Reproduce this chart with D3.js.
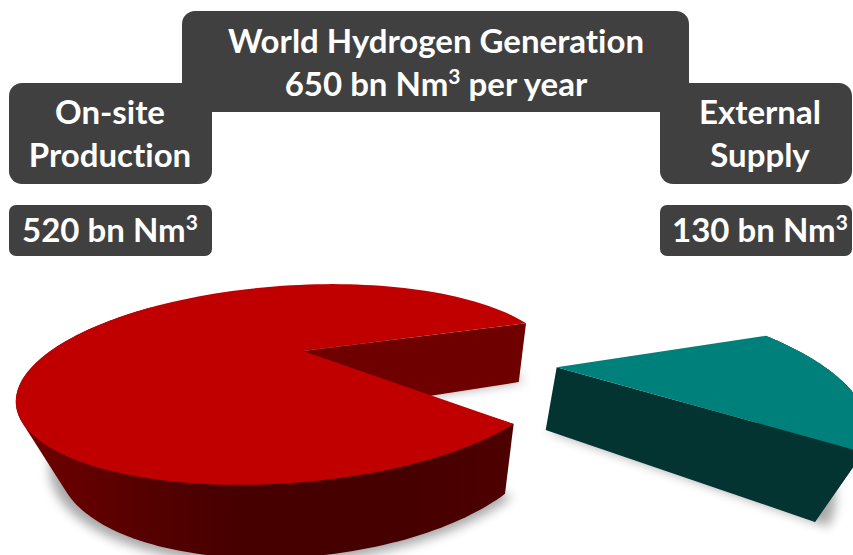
<!DOCTYPE html>
<html>
<head>
<meta charset="utf-8">
<script src="https://d3js.org/d3.v7.min.js"></script>
<style>
  html, body { margin: 0; background: #fff; overflow: hidden; }
  text { font-family: Lato, "Open Sans", sans-serif; font-weight: 700; fill: #fff; text-anchor: middle; font-variant-ligatures: none; }
</style>
</head>
<body>
<div id="chart"></div>
<script>
// generation split, bn Nm3 per year
var categories = ["External Supply", "On-site Production"];
var values = [130, 520];
var total = 650;
var unit = "bn Nm";

var titleLines = ["World Hydrogen Generation", total + " " + unit];
var leftLines = ["On-site", "Production"];
var rightLines = ["External", "Supply"];

var width = 853, height = 555;

var svg = d3.select("#chart").append("svg")
  .attr("width", width).attr("height", height)
  .style("display", "block");

var defs = svg.append("defs");

defs.append("filter").attr("id", "soft")
  .attr("x", "-20%").attr("y", "-20%").attr("width", "140%").attr("height", "140%")
  .append("feGaussianBlur").attr("stdDeviation", 5.5);

var wallGrad = defs.append("linearGradient").attr("id", "redWall")
  .attr("gradientUnits", "userSpaceOnUse")
  .attr("x1", 20).attr("x2", 510).attr("y1", 0).attr("y2", 0);
[[0, "#700000"], [0.25, "#560000"], [0.45, "#460000"], [0.8, "#470000"], [1, "#4e0000"]].forEach(function (s) {
  wallGrad.append("stop").attr("offset", s[0]).attr("stop-color", s[1]);
});

// pie plane -> screen, homogeneous. Plane points are given as (a, b) along
// the two edges of the external slice, the extrusion runs to a vanishing point.
var origin = [303, 351];
var edgeA = { x: 286.3, y: 11.2, w: 0.1203 };
var edgeB = { x: 101.9, y: -16.8, w: -0.2117 };
var vanish = [434, 1068];
var depth = 0.096;

function project(a, b, h) {
  var X = origin[0] + edgeA.x * a + edgeB.x * b + h * vanish[0];
  var Y = origin[1] + edgeA.y * a + edgeB.y * b + h * vanish[1];
  var W = 1 + edgeA.w * a + edgeB.w * b + h;
  return [X / W, Y / W];
}

// the tilted disc squeezes the small slice a little
var gamma = 60.5 * Math.PI / 180;
var squeeze = d3.scaleLinear()
  .domain([0, 2 * Math.PI * values[0] / total, 2 * Math.PI])
  .range([0, gamma, 2 * Math.PI]);

var pie = d3.pie().sort(null).value(function (d) { return d; });
var arcs = pie(values);

function rim(arc, offset, radius, h, to) {
  var start = arc.startAngle;
  var end = to === undefined ? arc.endAngle : to;
  return d3.range(0, 121).map(function (i) {
    var t = squeeze(start + (end - start) * i / 120);
    var a = Math.sin(gamma - t) / Math.sin(gamma);
    var b = Math.sin(t) / Math.sin(gamma);
    return project(offset[0] + radius * a, offset[1] + radius * b, h);
  });
}

var line = d3.line();

function polygon(points, fill) {
  return svg.append("path").attr("d", line(points) + "Z").attr("fill", fill);
}

function corner(offset, h) {
  return project(offset[0], offset[1], h);
}

// on-site production, stays at the centre
function drawOnSite(arc) {
  var offset = [0, 0];
  var radius = 1;
  var top = rim(arc, offset, radius, 0);
  var bottom = rim(arc, offset, radius, depth);
  // front of the outer wall only, up to the left silhouette
  var frontEnd = 4.2;
  var front = rim(arc, offset, radius, 0, frontEnd).concat(rim(arc, offset, radius, depth, frontEnd));

  polygon([corner(offset, depth)].concat(rim(arc, offset, 1.03, depth)), "#000")
    .attr("opacity", 0.34).attr("filter", "url(#soft)");

  polygon(d3.polygonHull(front), "url(#redWall)");
  // inner cut face seen through the gap
  polygon([corner(offset, 0), top[top.length - 1], bottom[bottom.length - 1], corner(offset, depth)], "#6e0000");
  polygon([corner(offset, 0)].concat(top), "#c00000");
}

// external supply, pulled out of the pie
function drawExternal(arc) {
  var offset = [0.5763, 0.5792];
  var radius = 1.02;
  var h = 0.093;
  var top = rim(arc, offset, radius, 0);
  var bottom = rim(arc, offset, radius, h);

  polygon([corner(offset, h)].concat(rim(arc, offset, 1.06, h)), "#000")
    .attr("opacity", 0.34).attr("filter", "url(#soft)");

  polygon(d3.polygonHull(top.concat(bottom)), "#033432");
  polygon([corner(offset, 0), top[top.length - 1], bottom[bottom.length - 1], corner(offset, h)], "#033432");
  polygon([corner(offset, 0)].concat(top), "#00807a");
}

drawOnSite(arcs[1]);
drawExternal(arcs[0]);

// header boxes
var boxColor = "#404040";
function box(x, y, w, h, r) {
  svg.append("rect").attr("x", x).attr("y", y).attr("width", w).attr("height", h)
    .attr("rx", r).attr("ry", r).attr("fill", boxColor);
}
box(182, 11, 507, 101, 13);
box(9, 83, 203, 101, 13);
box(660, 83, 192, 101, 13);
box(9, 205, 203, 51, 7);
box(660, 205, 192, 51, 7);

function label(x, y, str, sup, after) {
  var t = svg.append("text").attr("x", x).attr("y", y).attr("font-size", 33).text(str);
  if (sup) {
    t.append("tspan").attr("font-size", 21).attr("dy", -12).text("3");
    if (after) t.append("tspan").attr("dy", 12).text(after);
  }
}

label(436, 53, titleLines[0]);
label(436, 96, titleLines[1], true, " per year");
label(110, 124, leftLines[0]);
label(110, 167, leftLines[1]);
label(760, 124, rightLines[0]);
label(760, 167, rightLines[1]);
label(110, 242, values[1] + " " + unit, true);
label(760, 242, values[0] + " " + unit, true);
</script>
</body>
</html>
